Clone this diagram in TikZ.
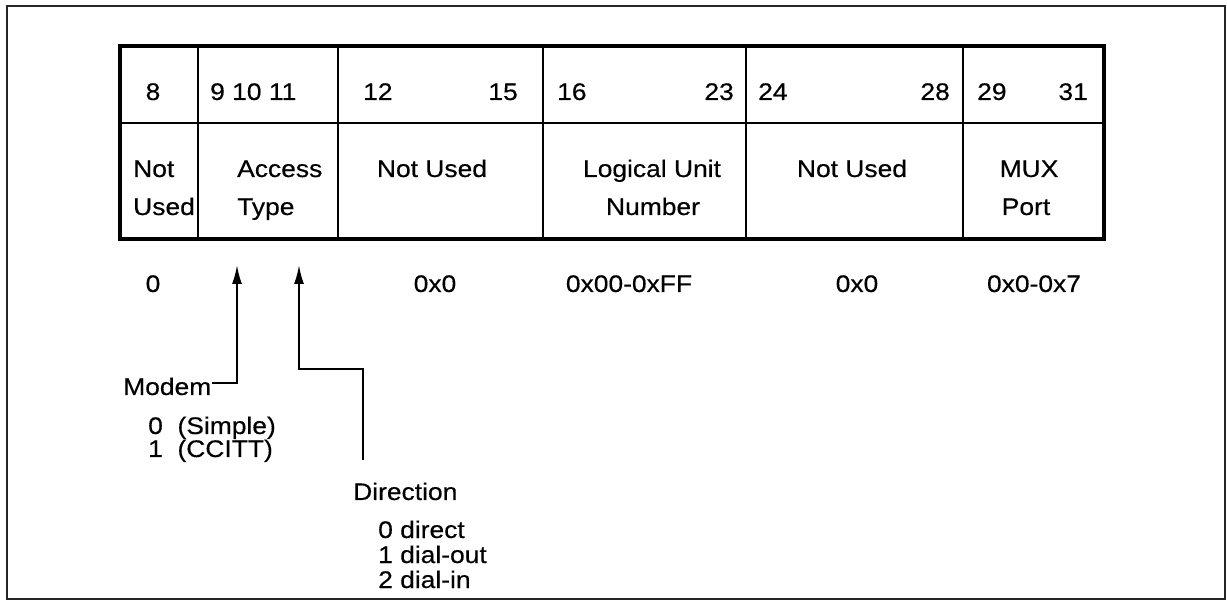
\documentclass[tikz,border=0pt]{standalone}
\usepackage{fontspec}
\setmainfont{Liberation Sans}[FakeStretch=1.1,FakeBold=0.4]
\usetikzlibrary{arrows.meta}
\begin{document}
\begin{tikzpicture}[x=1pt,y=-1pt,
  txt/.style={inner sep=0pt,font=\fontsize{24}{28}\selectfont},
  thin line/.style={line width=2pt},
  thick line/.style={line width=4.5pt},
  arr/.style={line width=2pt,-{Latex[length=19pt,width=10pt]}}]
\useasboundingbox (0,0) rectangle (1227,601);
% outer frame
\draw[line width=2pt,black!85] (7,6) rectangle (1225,599);
% table
\draw[thin line] (119,123) -- (1104,123);
\foreach \x in {198,338,543,746,963} \draw[thin line] (\x,46) -- (\x,239);
\draw[thick line] (120,46) rectangle (1104,239);
% bit numbers
\node[txt,anchor=base] (b8) at (153,100) {8};
\node[txt,anchor=base west] (b9) at (210,100) {9 10 11};
\node[txt,anchor=base west] (b12) at (363,100) {12};
\node[txt,anchor=base east] (b15) at (518,100) {15};
\node[txt,anchor=base west] (b16) at (557,100) {16};
\node[txt,anchor=base east] (b23) at (734,100) {23};
\node[txt,anchor=base west] (b24) at (758,100) {24};
\node[txt,anchor=base east] (b28) at (950,100) {28};
\node[txt,anchor=base west] (b29) at (977,100) {29};
\node[txt,anchor=base east] (b31) at (1088,100) {31};
% field names
\node[txt,anchor=base west] (f1a) at (133,177) {Not};
\node[txt,anchor=base west] (f1b) at (133,215) {Used};
\node[txt,anchor=base west] (f2a) at (237,177) {Access};
\node[txt,anchor=base west] (f2b) at (237,215) {Type};
\node[txt,anchor=base] (f3) at (432,177) {Not Used};
\node[txt,anchor=base] (f4a) at (652,177) {Logical Unit};
\node[txt,anchor=base] (f4b) at (653,215) {Number};
\node[txt,anchor=base] (f5) at (852,177) {Not Used};
\node[txt,anchor=base] (f6a) at (1029,177) {MUX};
\node[txt,anchor=base] (f6b) at (1026,215) {Port};
% values
\node[txt,anchor=base] (v1) at (153,292) {0};
\node[txt,anchor=base] (v3) at (435,292) {0x0};
\node[txt,anchor=base] (v4) at (629,292) {0x00-0xFF};
\node[txt,anchor=base] (v5) at (857,292) {0x0};
\node[txt,anchor=base] (v6) at (1034,292) {0x0-0x7};
% modem
\node[txt,anchor=base west] (modem) at (123,395) {Modem};
\node[txt,anchor=base west] (m0) at (148,434) {0\ \ (Simple)};
\node[txt,anchor=base west] (m1) at (148,457) {1\ \ (CCITT)};
% direction
\node[txt,anchor=base west] (dir) at (353,500) {Direction};
\node[txt,anchor=base west] (d0) at (378,538) {0 direct};
\node[txt,anchor=base west] (d1) at (378,563) {1 dial-out};
\node[txt,anchor=base west] (d2) at (378,588) {2 dial-in};
% connectors
\coordinate (tipA) at (237,265);
\coordinate (tipB) at (299,265);
\coordinate (dirtop) at (363,460);
\draw[arr] ([xshift=1pt,yshift=3pt]modem.east) -| (tipA);
\draw[arr] (dirtop) -- (363,369) -| (tipB);
\end{tikzpicture}
\end{document}
